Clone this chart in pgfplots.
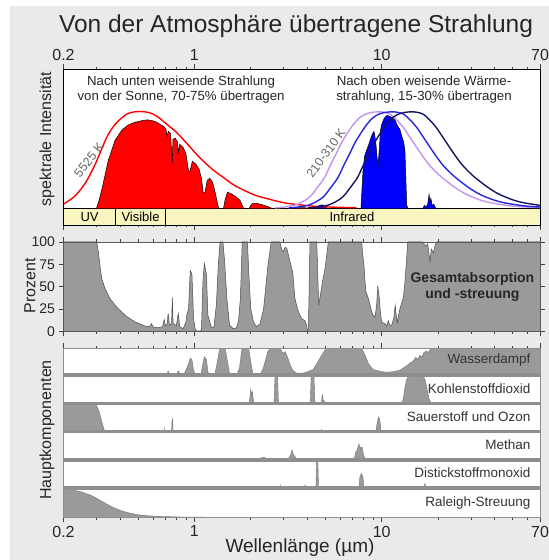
\documentclass[border=0pt]{standalone}
\usepackage{fontspec}
\setmainfont{Liberation Sans}
\usepackage{pgfplots}
\usepackage{pgfplotstable}
\pgfplotsset{compat=1.18}
\definecolor{bgc}{HTML}{EAEAEA}
\definecolor{bandc}{HTML}{F9F5C0}
\definecolor{absc}{HTML}{9A9A9A}
\definecolor{sepc}{HTML}{8E8E8E}
\definecolor{purp}{HTML}{C096F0}
\definecolor{bluec}{HTML}{2626E0}
\definecolor{navy}{HTML}{161660}
\definecolor{solar}{HTML}{FF0000}
\definecolor{therm}{HTML}{0000FF}

% ---------------- data ----------------
\pgfplotstableread{
x y
0.30 0
0.31 8
0.326 25
0.347 48
0.377 68
0.409 78
0.44 83
0.48 86
0.523 87.6
0.56 88.5
0.60 87.5
0.63 86
0.655 84
0.69 81.5
0.705 79
0.715 72
0.725 77
0.745 75
0.755 58
0.762 45
0.768 69
0.79 70
0.81 67
0.823 56
0.835 64
0.87 61
0.90 55
0.925 40
0.94 35
0.955 40
0.975 47
1.02 44
1.06 39
1.09 30
1.115 15
1.14 16
1.17 28
1.21 30
1.25 26
1.29 16
1.33 4
1.35 0
1.43 0
1.46 9
1.50 16
1.56 15
1.62 13
1.68 11
1.75 8
1.80 3
1.83 0
1.96 0
2.00 3
2.05 5
2.15 5
2.25 4
2.35 3
2.45 2
2.55 0.5
2.60 0
3.45 0
3.55 0.8
3.90 0.6
4.10 0
}\tabSolar

\pgfplotstableread{
x y
4.5 0
4.6 2.5
4.8 3.5
5.0 2
5.1 0
7.75 0
7.85 20
7.95 38
8.1 52
8.3 58
8.5 63
8.7 69
8.9 74
9.1 77
9.3 66
9.45 50
9.58 45
9.7 58
9.85 78
10.0 84
10.2 88
10.4 91
10.7 93
11.0 92
11.3 91
11.5 87
11.6 90
11.8 88
12.1 83
12.5 79
12.8 72
13.1 66
13.3 58
13.45 30
13.6 3
13.8 0
16.6 0
16.9 3
17.2 1
17.6 4
17.9 14
18.1 6
18.3 10
18.6 3
19.0 4
19.4 0
}\tabTherm

\pgfplotstableread{
x y
0.2 100
0.301 100
0.307 89
0.313 74
0.320 59
0.333 48
0.354 36.6
0.385 27
0.426 18
0.482 10.4
0.544 6
0.575 5
0.59 8.6
0.60 5
0.64 4
0.675 5
0.69 13
0.70 6
0.715 8
0.724 20
0.735 7
0.755 8
0.762 38
0.77 9
0.80 6
0.82 20
0.835 5
0.87 3
0.90 10
0.91 18
0.93 25
0.95 68
0.97 64
0.99 14
1.01 2
1.04 0
1.09 1
1.11 55
1.13 76
1.16 63
1.18 18
1.23 5
1.27 4
1.31 30
1.34 74
1.37 100
1.42 100
1.45 78
1.49 37
1.54 7
1.61 3
1.68 4
1.72 12
1.76 37
1.80 100
1.92 100
1.95 66
2.0 25
2.07 10
2.15 5
2.24 8.6
2.34 25
2.40 48
2.47 74
2.57 100
2.86 100
2.92 92
2.98 89
3.05 94
3.11 93
3.18 85
3.24 78
3.35 66
3.44 37
3.52 28
3.59 22
3.74 14
3.89 12
3.95 8
4.01 1
4.06 3
4.14 100
4.5 100
4.56 60
4.61 29
4.7 40
4.85 58
4.98 70
5.19 100
7.82 100
7.9 88
8.04 74
8.15 55
8.24 44
8.48 37
8.65 30
8.84 22
9.0 18
9.21 16
9.4 30
9.52 51
9.71 37
9.85 20
10.0 10.4
10.4 8.6
10.6 6
10.85 12
11.0 7
11.3 6.7
11.6 15
11.8 29
12.0 15
12.1 10
12.3 18
12.5 25
13.05 38
13.3 55
13.5 74
13.77 100
16.6 100
17.2 95
17.6 98
18.1 78
18.4 92
18.9 88
19.3 97
19.7 100
70 100
}\tabTotal

\pgfplotstableread{
x y
0.2 0
0.57 0
0.59 0.03
0.61 0
0.65 0
0.67 0.05
0.69 0
0.70 0.03
0.715 0.08
0.724 0.2
0.735 0.08
0.75 0.02
0.80 0.05
0.82 0.2
0.84 0.05
0.87 0.03
0.89 0.15
0.91 0.3
0.93 0.45
0.95 0.65
0.97 0.6
0.99 0.2
1.02 0.02
1.08 0.02
1.11 0.45
1.13 0.7
1.16 0.6
1.18 0.15
1.22 0.03
1.28 0.03
1.32 0.45
1.36 0.95
1.40 1
1.46 1
1.50 0.55
1.54 0.1
1.60 0.03
1.68 0.04
1.74 0.3
1.79 0.95
1.82 1
1.95 1
2.0 0.5
2.05 0.12
2.12 0.04
2.24 0.05
2.33 0.3
2.40 0.6
2.47 0.9
2.55 1
2.85 1
2.92 0.9
2.98 0.82
3.05 0.88
3.11 0.75
3.18 0.6
3.24 0.42
3.30 0.3
3.37 0.2
3.51 0.12
3.81 0.12
4.06 0.18
4.31 0.25
4.5 0.45
4.78 0.75
4.95 0.92
5.09 1
7.82 1
7.95 0.9
8.15 0.75
8.5 0.45
9.0 0.25
9.8 0.18
10.6 0.15
11.5 0.17
12.5 0.22
13.0 0.3
13.6 0.38
14.2 0.48
14.75 0.55
15.2 0.68
15.5 0.6
16.0 0.75
16.4 0.7
16.8 0.85
17.4 0.9
17.8 0.85
18.2 0.97
18.9 1
70 1
}\tabWater

\pgfplotstableread{
x y
0.2 0
1.40 0
1.43 0.07
1.46 0
1.57 0
1.60 0.06
1.63 0
1.95 0
1.98 0.25
2.0 0.55
2.02 0.35
2.04 0.45
2.06 0.2
2.08 0
2.66 0
2.69 0.95
2.72 1
2.78 1
2.81 0
4.15 0
4.2 0.95
4.23 1
4.35 1
4.4 0
4.75 0
4.82 0.35
4.88 0.15
4.95 0.1
5.05 0
5.15 0.08
5.25 0
9.3 0
9.4 0.03
9.5 0
10.3 0
10.4 0.03
10.5 0
12.8 0
13.1 0.3
13.3 0.6
13.6 0.9
13.87 1
16.7 1
17.1 0.85
17.4 0.6
17.9 0.2
18.5 0
70 0
}\tabCO

\pgfplotstableread{
x y
0.2 1
0.295 1
0.30 0.97
0.31 0.75
0.32 0.4
0.33 0.1
0.337 0
0.685 0
0.69 0.15
0.695 0
0.755 0
0.76 0.5
0.765 0.45
0.77 0
1.26 0
1.27 0.08
1.28 0
4.7 0
4.78 0.12
4.85 0
9.3 0
9.45 0.35
9.6 0.55
9.75 0.5
9.9 0.1
10.0 0
13.4 0
14.0 0.06
14.5 0.08
15.0 0.06
15.6 0
70 0
}\tabOx

\pgfplotstableread{
x y
0.2 0
2.15 0
2.25 0.1
2.35 0.13
2.45 0.08
2.55 0
3.1 0
3.2 0.12
3.28 0.25
3.32 0.4
3.38 0.22
3.5 0.1
3.6 0
6.45 0
6.5 0.05
6.55 0
7.1 0
7.25 0.3
7.4 0.4
7.55 0.6
7.7 0.45
7.85 0.5
8.0 0.2
8.2 0.05
8.3 0
70 0
}\tabMeth

\pgfplotstableread{
x y
0.2 0
2.84 0
2.87 0.15
2.9 0
3.85 0
3.9 0.15
3.95 0.05
4.05 0
4.45 0
4.48 0.7
4.5 1.0
4.56 1.0
4.6 0
7.55 0
7.65 0.45
7.8 0.55
7.95 0.4
8.05 0
8.5 0
8.6 0.05
8.7 0
16.6 0
16.9 0.12
17.0 0.2
17.2 0.1
17.5 0
70 0
}\tabNO

\pgfplotstableread{
x y
0.2 1.0
0.22 0.98
0.25 0.9
0.28 0.78
0.3 0.68
0.33 0.52
0.36 0.38
0.4 0.25
0.45 0.15
0.5 0.09
0.6 0.04
0.8 0.015
1 0.005
2 0
70 0
}\tabRay

\begin{document}
\begin{tikzpicture}[x=1pt,y=1pt]
\useasboundingbox (0,0) rectangle (549,560);
\fill[white] (0,0) rectangle (549,560);
\fill[bgc] (10,0) rectangle (549,554);

\node[font=\fontsize{24.5}{28}\selectfont, text=black!85] at (296,534) {Von der Atmosphäre übertragene Strahlung};

% ---------- top panel ----------
\begin{axis}[xmode=log, xmin=0.2, xmax=70, scale only axis, width=476.5pt, anchor=north west,
  xtick={0.2,1,10,70}, minor xtick={0.3,0.4,0.5,0.6,0.7,0.8,0.9,2,3,4,5,6,7,8,9,20,30,40,50,60},
  tick align=outside, major tick length=5pt, minor tick length=2.5pt, ytick=\empty,
  axis background/.style={fill=white}, axis on top,
  tick style={black!75, line width=0.6pt},
  xticklabel style={font=\fontsize{16}{18}\selectfont, text=black!85},
  at={(63.5pt,490.5pt)}, height=155.5pt, ymin=-16.7, ymax=138.8,
  xticklabels={0.2,1,10,70}, xtick pos=both, xticklabel pos=upper,
  axis line style={black, line width=0.8pt}]
\fill[bandc] (axis cs:0.2,-16.7) rectangle (axis cs:70,0);
\draw[black, line width=0.8pt] (axis cs:0.2,0) -- (axis cs:70,0);
\draw[black, line width=0.8pt] (axis cs:0.38,-16.7) -- (axis cs:0.38,0);
\draw[black, line width=0.8pt] (axis cs:0.70,-16.7) -- (axis cs:0.70,0);
\node[font=\fontsize{13}{15}\selectfont] at (axis cs:0.2757,-8.35) {UV};
\node[font=\fontsize{13}{15}\selectfont] at (axis cs:0.5158,-8.35) {Visible};
\node[font=\fontsize{13}{15}\selectfont] at (axis cs:6.94,-8.35) {Infrared};

\addplot[fill=solar, draw=none] table {\tabSolar} \closedcycle;
\addplot[black, line width=0.5pt] table {\tabSolar};
\addplot[fill=therm, draw=none] table {\tabTherm} \closedcycle;
\addplot[black, line width=0.5pt] table {\tabTherm};

\addplot[solar, line width=1.4pt, smooth] coordinates {
(0.2,4.2)(0.2256,10.8)(0.245,18)(0.266,27.5)(0.283,37)(0.301,47.5)(0.32,59.5)(0.340,70.8)
(0.362,79.5)(0.385,85.8)(0.41,90.5)(0.435,94.2)(0.47,96.2)(0.512,96.8)(0.555,96.2)(0.603,94.2)
(0.655,89.8)(0.711,84.2)(0.804,75.8)(0.92,64)(1.048,52.2)(1.243,39.2)(1.45,30)(1.654,22.4)
(2.089,13.4)(2.5,9.2)(3.019,5.5)(4.017,2.6)(5.07,1.4)(7.33,0.5)};
\addplot[purp, line width=1.4pt, smooth] coordinates {
(2.7,0.4)(3.1,1.5)(3.55,4)(4.1,10.8)(4.5,20)(4.95,30.8)(5.3,42.5)(5.7,54.2)(6.1,65.5)
(6.55,75)(7.0,83)(7.5,89.5)(8.1,93.8)(8.8,95.8)(9.59,96.5)(10.3,96)(11.07,94.2)(12.0,88.5)
(13.04,80.8)(14.2,70.5)(15.38,60.8)(16.7,51)(18.11,42.5)(20.48,32.5)(23.97,22.4)(26.37,17.2)
(28.77,13.3)(33.57,8.3)(38.36,5.45)(47.95,2.6)(57.54,1.4)(76.7,0.5)};
\addplot[bluec, line width=1.4pt, smooth] coordinates {
(3.186,0.4)(3.658,1.5)(4.189,4)(4.838,10.8)(5.31,20)(5.841,30.8)(6.254,42.5)(6.726,54.2)
(7.198,65.5)(7.729,75)(8.26,83)(8.85,89.5)(9.558,93.8)(10.38,95.8)(11.32,96.5)(12.15,96)
(13.06,94.2)(14.16,88.5)(15.39,80.8)(16.76,70.5)(18.15,60.8)(19.71,51)(21.37,42.5)(24.17,32.5)
(28.28,22.4)(31.12,17.2)(33.95,13.3)(39.61,8.3)(45.26,5.45)(56.58,2.6)(67.9,1.4)(90.5,0.5)};
\addplot[navy, line width=1.4pt, smooth] coordinates {
(4.05,0.4)(4.65,1.5)(5.325,4)(6.15,10.8)(6.75,20)(7.425,30.8)(7.95,42.5)(8.55,54.2)
(9.15,65.5)(9.825,75)(10.5,83)(11.25,89.5)(12.15,93.8)(13.2,95.8)(14.39,96.5)(15.45,96)
(16.61,94.2)(18.0,88.5)(19.56,80.8)(21.3,70.5)(23.07,60.8)(25.05,51)(27.17,42.5)(30.72,32.5)
(35.96,22.4)(39.56,17.2)(43.16,13.3)(50.36,8.3)(57.54,5.45)(71.93,2.6)};

\node[align=center, font=\fontsize{13.25}{14.5}\selectfont, text=black!85] at (rel axis cs:0.2467,0.872) {Nach unten weisende Strahlung\\von der Sonne, 70-75\% übertragen};
\node[align=center, font=\fontsize{13.25}{14.5}\selectfont, text=black!85] at (rel axis cs:0.7566,0.872) {Nach oben weisende Wärme-\\strahlung, 15-30\% übertragen};
\end{axis}

\node[rotate=52, font=\fontsize{12.5}{14}\selectfont, text=black!60] at (89,400) {5525 K};
\node[rotate=54, font=\fontsize{12.4}{14}\selectfont, text=black!60] at (326,407) {210-310 K};

% ---------- total absorption ----------
\begin{axis}[xmode=log, xmin=0.2, xmax=70, scale only axis, width=476.5pt, anchor=north west,
  xtick={0.2,1,10,70}, minor xtick={0.3,0.4,0.5,0.6,0.7,0.8,0.9,2,3,4,5,6,7,8,9,20,30,40,50,60},
  tick align=outside, major tick length=5pt, minor tick length=2.5pt,
  axis background/.style={fill=white}, axis on top,
  tick style={black!75, line width=0.6pt},
  xticklabels={},
  at={(63.5pt,318pt)}, height=89.3pt, ymin=0, ymax=100,
  ytick={0,25,50,75,100}, yticklabels={0,25,50,75,100},
  ytick pos=both, yticklabel pos=left, xtick pos=both,
  yticklabel style={font=\fontsize{14}{16}\selectfont, text=black!85},
  axis line style={draw=black!65, line width=0.8pt}]
\addplot[fill=absc, draw=none] table {\tabTotal} \closedcycle;
\addplot[black!70, line width=0.5pt] table {\tabTotal};
\node[align=center, font=\bfseries\fontsize{14}{16}\selectfont, text=black!85] at (axis cs:30.5,50) {Gesamtabsorption\\und -streuung};
\end{axis}

% ---------- components ----------
\begin{axis}[xmode=log, xmin=0.2, xmax=70, scale only axis, width=476.5pt, anchor=north west,
  xtick={0.2,1,10,70}, minor xtick={0.3,0.4,0.5,0.6,0.7,0.8,0.9,2,3,4,5,6,7,8,9,20,30,40,50,60},
  tick align=outside, major tick length=5pt, minor tick length=2.5pt, ytick=\empty,
  axis background/.style={fill=white}, axis on top,
  tick style={black!75, line width=0.6pt}, xticklabels={},
  height=28.17pt, ymin=0, ymax=1, axis line style={draw=sepc, line width=0.7pt},
  at={(63.5pt,211.7pt)}, xtick pos=upper]
\addplot[fill=absc, draw=none] table {\tabWater} \closedcycle;
\addplot[black!55, line width=0.4pt] table {\tabWater};
\fill[sepc] (axis cs:0.2,0) rectangle (axis cs:70,0.107);
\node[anchor=east, xshift=-6pt, font=\fontsize{13.5}{15}\selectfont, text=black!80] at (rel axis cs:1,0.57) {Wasserdampf};
\end{axis}
\begin{axis}[xmode=log, xmin=0.2, xmax=70, scale only axis, width=476.5pt, anchor=north west,
  xtick=\empty, ytick=\empty,
  axis background/.style={fill=white}, axis on top,
  height=28.17pt, ymin=0, ymax=1, axis line style={draw=sepc, line width=0.7pt},
  at={(63.5pt,183.53pt)}]
\addplot[fill=absc, draw=none] table {\tabCO} \closedcycle;
\addplot[black!55, line width=0.4pt] table {\tabCO};
\fill[sepc] (axis cs:0.2,0) rectangle (axis cs:70,0.107);
\node[anchor=east, xshift=-6pt, font=\fontsize{13.5}{15}\selectfont, text=black!80] at (rel axis cs:1,0.57) {Kohlenstoffdioxid};
\end{axis}
\begin{axis}[xmode=log, xmin=0.2, xmax=70, scale only axis, width=476.5pt, anchor=north west,
  xtick=\empty, ytick=\empty,
  axis background/.style={fill=white}, axis on top,
  height=28.17pt, ymin=0, ymax=1, axis line style={draw=sepc, line width=0.7pt},
  at={(63.5pt,155.36pt)}]
\addplot[fill=absc, draw=none] table {\tabOx} \closedcycle;
\addplot[black!55, line width=0.4pt] table {\tabOx};
\fill[sepc] (axis cs:0.2,0) rectangle (axis cs:70,0.107);
\node[anchor=east, xshift=-6pt, font=\fontsize{13.5}{15}\selectfont, text=black!80] at (rel axis cs:1,0.57) {Sauerstoff und Ozon};
\end{axis}
\begin{axis}[xmode=log, xmin=0.2, xmax=70, scale only axis, width=476.5pt, anchor=north west,
  xtick=\empty, ytick=\empty,
  axis background/.style={fill=white}, axis on top,
  height=28.17pt, ymin=0, ymax=1, axis line style={draw=sepc, line width=0.7pt},
  at={(63.5pt,127.19pt)}]
\addplot[fill=absc, draw=none] table {\tabMeth} \closedcycle;
\addplot[black!55, line width=0.4pt] table {\tabMeth};
\fill[sepc] (axis cs:0.2,0) rectangle (axis cs:70,0.107);
\node[anchor=east, xshift=-6pt, font=\fontsize{13.5}{15}\selectfont, text=black!80] at (rel axis cs:1,0.57) {Methan};
\end{axis}
\begin{axis}[xmode=log, xmin=0.2, xmax=70, scale only axis, width=476.5pt, anchor=north west,
  xtick=\empty, ytick=\empty,
  axis background/.style={fill=white}, axis on top,
  height=28.17pt, ymin=0, ymax=1, axis line style={draw=sepc, line width=0.7pt},
  at={(63.5pt,99.02pt)}]
\addplot[fill=absc, draw=none] table {\tabNO} \closedcycle;
\addplot[black!55, line width=0.4pt] table {\tabNO};
\fill[sepc] (axis cs:0.2,0) rectangle (axis cs:70,0.107);
\node[anchor=east, xshift=-6pt, font=\fontsize{13.5}{15}\selectfont, text=black!80] at (rel axis cs:1,0.57) {Distickstoffmonoxid};
\end{axis}
\begin{axis}[xmode=log, xmin=0.2, xmax=70, scale only axis, width=476.5pt, anchor=north west,
  xtick={0.2,1,10,70}, minor xtick={0.3,0.4,0.5,0.6,0.7,0.8,0.9,2,3,4,5,6,7,8,9,20,30,40,50,60},
  tick align=outside, major tick length=5pt, minor tick length=2.5pt, ytick=\empty,
  axis background/.style={fill=white}, axis on top,
  tick style={black!75, line width=0.6pt},
  xticklabel style={font=\fontsize{16}{18}\selectfont, text=black!85},
  height=28.17pt, ymin=0, ymax=1, axis line style={draw=sepc, line width=0.7pt},
  at={(63.5pt,70.85pt)}, xtick pos=lower, xticklabel pos=lower,
  xticklabels={0.2,1,10,70}]
\addplot[fill=absc, draw=none] table {\tabRay} \closedcycle;
\addplot[black!55, line width=0.4pt] table {\tabRay};
\node[anchor=east, xshift=-6pt, font=\fontsize{13.5}{15}\selectfont, text=black!80] at (rel axis cs:1,0.5) {Raleigh-Streuung};
\end{axis}

\node[rotate=90, font=\fontsize{16}{18}\selectfont, text=black!85] at (47,421) {spektrale Intensität};
\node[rotate=90, font=\fontsize{16}{18}\selectfont, text=black!85] at (30,274) {Prozent};
\node[rotate=90, font=\fontsize{16}{18}\selectfont, text=black!85] at (47,130) {Hauptkomponenten};
\node[font=\fontsize{19}{22}\selectfont, text=black!85] at (300,12) {Wellenlänge (µm)};
\end{tikzpicture}
\end{document}
